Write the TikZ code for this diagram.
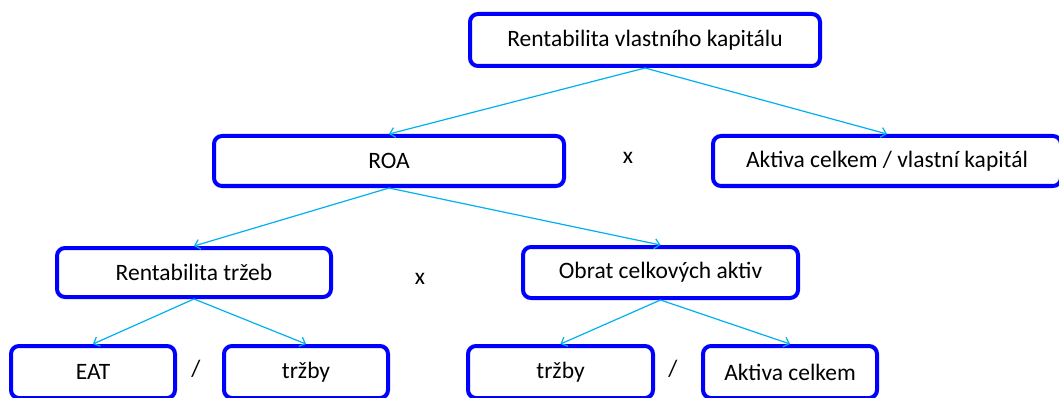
\documentclass[tikz,border=0pt]{standalone}
\usepackage{fontspec}
\setmainfont{Carlito}
\usetikzlibrary{arrows.meta}
\definecolor{boxblue}{RGB}{0,0,255}
\definecolor{arrcyan}{RGB}{0,176,240}
\tikzset{
  box/.style={draw=boxblue, line width=4pt, rounded corners=8pt, fill=white,
    inner sep=0pt, font=\fontsize{23.5}{27}\selectfont, text=black},
  conn/.style={draw=arrcyan, line width=1.2pt, -{Straight Barb[length=5pt,width=10pt,line width=1.2pt]}},
  op/.style={font=\fontsize{23.5}{27}\selectfont, inner sep=0pt}
}
\begin{document}
\begin{tikzpicture}[x=1pt,y=-1pt]
\useasboundingbox (0,0) rectangle (1059,398);
\node[box, minimum width=350pt, minimum height=52pt] (top) at (645,40) {Rentabilita vlastního kapitálu};
\node[box, minimum width=350pt, minimum height=50pt] (roa) at (389,161) {ROA};
\node[box, minimum width=348pt, minimum height=50pt] (ak) at (887,161) {Aktiva celkem / vlastní kapitál};
\node[box, minimum width=274pt, minimum height=49pt] (rt) at (194,272.5) {Rentabilita tržeb};
\node[box, minimum width=275pt, minimum height=51pt] (ob) at (660.5,272.5) {Obrat celkových aktiv};
\node[box, minimum width=164pt, minimum height=52pt] (eat) at (93,372) {EAT};
\node[box, minimum width=164pt, minimum height=52pt] (t1) at (306,372) {tržby};
\node[box, minimum width=185pt, minimum height=52pt] (t2) at (560.5,372) {tržby};
\node[box, minimum width=174pt, minimum height=52pt] (ac) at (790,372) {Aktiva celkem};
\node[op] (x1) at (628,158) {x};
\node[op] (x2) at (420,279) {x};
\node[op] (s1) at (196,369) {/};
\node[op] (s2) at (673,369) {/};
\draw[conn] (top.south) -- (roa.north);
\draw[conn] (top.south) -- (ak.north);
\draw[conn] (roa.south) -- (rt.north);
\draw[conn] (roa.south) -- (ob.north);
\draw[conn] (rt.south) -- (eat.north);
\draw[conn] (rt.south) -- (t1.north);
\draw[conn] (ob.south) -- (t2.north);
\draw[conn] (ob.south) -- (ac.north);
\end{tikzpicture}
\end{document}
